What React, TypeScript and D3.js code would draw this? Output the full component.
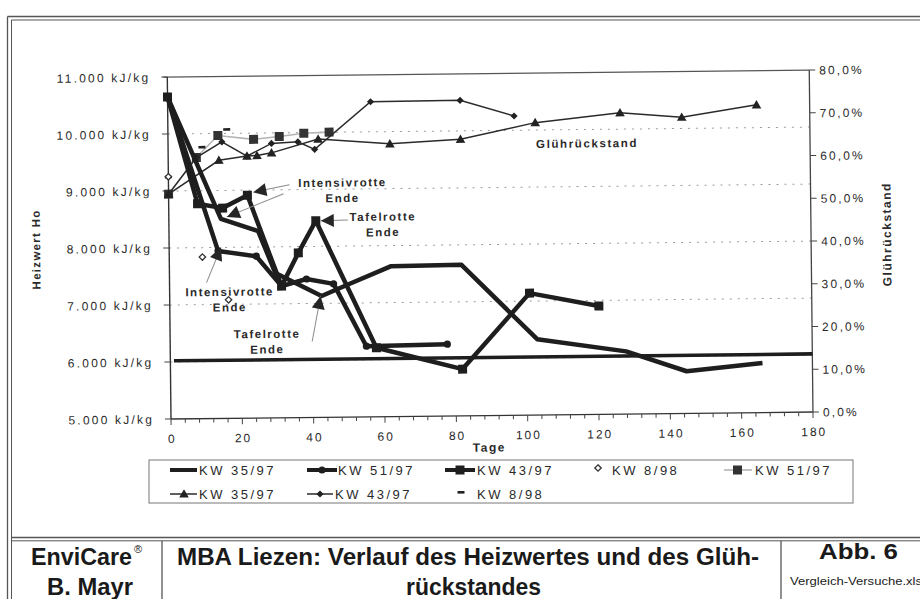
import React from "react";
import * as d3 from "d3";

// Heizwert Ho (kJ/kg) - linke Achse
const hw3597Tage = [0, 14.6, 25, 29.7, 42.6, 50.2, 62.2, 81.9, 102.9, 127.8, 144.7, 166];
const hw3597 = [10650, 8500, 8280, 7540, 7130, 7330, 7640, 7650, 6330, 6100, 5740, 5870];
const hw5197Tage = [0, 13.7, 24.4, 31.4, 38.4, 46, 55, 77.7];
const hw5197 = [10650, 7940, 7840, 7310, 7430, 7340, 6240, 6260];
const hw4397Tage = [0, 8.1, 15.1, 22.1, 31.4, 36.2, 41.2, 57.8, 81.9, 100.9, 120.3];
const hw4397 = [10650, 8770, 8690, 8910, 7310, 7890, 8450, 6210, 5820, 7140, 6900];
const hw898Tage = [0, 9.3, 16.5];
const hw898 = [9250, 7835, 7080];
const grenzTage = [1, 180];
const grenzWert = [6020, 6020];

// Glührückstand (%) - rechte Achse
const gr5197Tage = [0, 7.9, 14, 24, 31.2, 38.1, 45.2];
const gr5197 = [52.6, 61.1, 66.2, 65.2, 65.8, 66.5, 66.7];
const gr3597Tage = [0, 14.2, 22.1, 24.9, 29, 42.1, 62.2, 82, 103, 126.8, 144.1, 165.1];
const gr3597 = [52.6, 60.4, 61.3, 61.4, 62.0, 65.1, 63.8, 64.7, 68.4, 70.5, 69.3, 72.0];
const gr4397Tage = [0, 7.9, 15.1, 22.1, 29, 36.4, 41.1, 56.9, 82, 97.1];
const gr4397 = [52.6, 61.1, 64.7, 61.3, 64.2, 64.5, 62.7, 73.7, 73.8, 70.0];
const gr898Tage = [0, 9.5, 16.5];
const gr898 = [56.6, 63.5, 67.6];

const leftTicks = [5000, 6000, 7000, 8000, 9000, 10000, 11000];
const gridTicks = [6000, 7000, 8000, 9000, 10000];
const rightTicks = [0, 10, 20, 30, 40, 50, 60, 70, 80];
const dayTicks = [0, 20, 40, 60, 80, 100, 120, 140, 160, 180];

const x = d3.scaleLinear().domain([0, 180]).range([171, 813]);
const yL = d3.scaleLinear().domain([5000, 11000]).range([419, 77]);
const yR = d3.scaleLinear().domain([0, 80]).range([419, 77]);
const de = d3.formatLocale({ decimal: ",", thousands: ".", grouping: [3], currency: ["", ""] });
const fmtL = de.format(",");
const fmtR = de.format(".1f");
const line = d3.line();

const pts = (t: number[], v: number[], y: (n: number) => number) =>
  t.map((d, i) => [x(d), y(v[i])] as [number, number]);

const INK = "#1e1e1e";
const TXT = "#2a2a2a";
const narrow = "'Liberation Sans Narrow', 'Arial Narrow', 'Liberation Sans', Arial, sans-serif";
const sans = "'Liberation Sans', Arial, sans-serif";

const tri = (cx: number, cy: number, s: number) =>
  `M${cx},${cy - s * 0.6}L${cx + s * 0.6},${cy + s * 0.45}L${cx - s * 0.6},${cy + s * 0.45}Z`;
const dia = (cx: number, cy: number, s: number) =>
  `M${cx},${cy - s}L${cx + s},${cy}L${cx},${cy + s}L${cx - s},${cy}Z`;

function Thick({ t, v, mark }: { t: number[]; v: number[]; mark?: string }) {
  const p = pts(t, v, yL);
  return (
    <g>
      <path d={line(p) || ""} fill="none" stroke={INK} strokeWidth={4.5} strokeLinejoin="round" />
      {mark === "sq" && p.map((d, i) => <rect key={i} x={d[0] - 4.5} y={d[1] - 4.5} width={9} height={9} fill={INK} />)}
      {mark === "ci" && p.map((d, i) => <circle key={i} cx={d[0]} cy={d[1]} r={3.6} fill={INK} />)}
    </g>
  );
}

// Annotations: anchor on a data point, arrow tip offset, text position
const notes = [
  { lines: ["Intensivrotte", "Ende"], tx: 345, ty: 188.5, from: [292, 186], at: [hw4397Tage[3], hw4397[3]], off: [6, -3] },
  { lines: [], tx: 0, ty: 0, from: [286, 195], at: [hw3597Tage[1], hw3597[1]], off: [6, -2] },
  { lines: ["Tafelrotte", "Ende"], tx: 385, ty: 223, from: [350, 222], at: [hw4397Tage[6], hw4397[6]], off: [5, 0] },
  { lines: ["Intensivrotte", "Ende"], tx: 231, ty: 296.5, from: [208, 283], at: [hw5197Tage[1], hw5197[1]], off: [3, -3.5] },
  { lines: ["Tafelrotte", "Ende"], tx: 268, ty: 339, from: [313, 343], at: [hw3597Tage[4], hw3597[4]], off: [-1, 0] },
];

export default function App() {
  return (
    <svg width={920} height={599} style={{ display: "block", position: "absolute", left: 0, top: 0 }}>
      <defs>
        <marker id="ah" viewBox="0 0 10 10" refX={10} refY={5} markerWidth={16} markerHeight={13}
          markerUnits="userSpaceOnUse" orient="auto">
          <path d="M0,0L10,5L0,10Z" fill="#262626" />
        </marker>
      </defs>
      <rect width={920} height={599} fill="#fff" />

      {/* page frame */}
      <g stroke="#555" fill="none">
        <line x1={7.5} y1={16.5} x2={920} y2={16.5} strokeWidth={1.3} />
        <line x1={11.5} y1={20} x2={920} y2={20} strokeWidth={1} />
        <line x1={7.5} y1={16.5} x2={7.5} y2={599} strokeWidth={1.3} />
        <line x1={11.5} y1={20} x2={11.5} y2={599} strokeWidth={1} />
        <line x1={11.5} y1={537.5} x2={920} y2={537.5} strokeWidth={1.6} />
        <line x1={11.5} y1={540.8} x2={920} y2={540.8} strokeWidth={1} />
        <line x1={162} y1={541} x2={162} y2={599} strokeWidth={1.3} />
        <line x1={781} y1={541} x2={781} y2={599} strokeWidth={1.3} />
      </g>

      <g transform="rotate(-0.62 171 419)">
        {/* grid */}
        {gridTicks.map((v) => (
          <line key={v} x1={x(0)} x2={x(180)} y1={yL(v)} y2={yL(v)} stroke="#9a9a9a" strokeDasharray="2,6" />
        ))}
        {/* frame / axes */}
        <line x1={167} x2={x(180)} y1={yL(11000)} y2={yL(11000)} stroke="#555" strokeWidth={1.2} />
        <line x1={x(0)} x2={x(0)} y1={yL(11000)} y2={yL(5000)} stroke="#333" strokeWidth={1.4} />
        <line x1={x(0)} x2={x(180)} y1={yL(5000)} y2={yL(5000)} stroke="#333" strokeWidth={1.4} />
        <line x1={x(180)} x2={x(180)} y1={yR(80)} y2={yR(0)} stroke="#444" strokeWidth={1.3} />

        {leftTicks.map((v) => (
          <g key={v}>
            <line x1={x(0) - 6} x2={x(0)} y1={yL(v)} y2={yL(v)} stroke="#444" />
            <text x={154} y={yL(v) + 4.5} textAnchor="end" fontFamily={sans} fontSize={12} letterSpacing={2.2} fill={TXT}>
              {fmtL(v)} kJ/kg
            </text>
          </g>
        ))}
        {rightTicks.map((v) => (
          <g key={v}>
            <line x1={x(180)} x2={x(180) + 6} y1={yR(v)} y2={yR(v)} stroke="#444" />
            <text x={823} y={yR(v) + 4.5} fontFamily={sans} fontSize={12} letterSpacing={2.1} fill={TXT}>
              {fmtR(v)}%
            </text>
          </g>
        ))}
        {d3.range(0, 181, 4).map((d) => (
          <line key={d} x1={x(d)} x2={x(d)} y1={yL(5000)} y2={yL(5000) + (d % 20 === 0 ? 6 : 4)} stroke="#444" />
        ))}
        {dayTicks.map((d) => (
          <text key={d} x={x(d) + 1} y={443} textAnchor="middle" fontFamily={sans} fontSize={12} letterSpacing={2} fill={TXT}>
            {d}
          </text>
        ))}
        <text x={489} y={455} textAnchor="middle" fontFamily={sans} fontWeight="bold" fontSize={12} letterSpacing={1.5} fill={TXT}>
          Tage
        </text>
        <text transform="translate(42,248) rotate(-90)" textAnchor="middle" fontFamily={sans} fontWeight="bold" fontSize={11.5} letterSpacing={1.3} fill={TXT}>
          Heizwert Ho
        </text>
        <text transform="translate(893,242) rotate(-90)" textAnchor="middle" fontFamily={sans} fontWeight="bold" fontSize={12} letterSpacing={1.5} fill={TXT}>
          Glührückstand
        </text>

        {/* Grenzlinie */}
        <path d={line(pts(grenzTage, grenzWert, yL)) || ""} stroke={INK} strokeWidth={3.6} fill="none" />

        {/* Glührückstand, dünne Linien */}
        <path d={line(pts(gr5197Tage, gr5197, yR)) || ""} fill="none" stroke="#b4b4b4" strokeWidth={1.6} />
        {pts(gr5197Tage, gr5197, yR).map((d, i) => (
          <rect key={i} x={d[0] - 4.5} y={d[1] - 4.5} width={9} height={9} fill="#333" />
        ))}
        <path d={line(pts(gr3597Tage, gr3597, yR)) || ""} fill="none" stroke="#2a2a2a" strokeWidth={1.5} />
        {pts(gr3597Tage, gr3597, yR).map((d, i) => (
          <path key={i} d={tri(d[0], d[1], 8)} fill="#222" />
        ))}
        <path d={line(pts(gr4397Tage, gr4397, yR)) || ""} fill="none" stroke="#2a2a2a" strokeWidth={1.5} />
        {pts(gr4397Tage, gr4397, yR).map((d, i) => (
          <path key={i} d={dia(d[0], d[1], 3.6)} fill="#222" />
        ))}
        {pts(gr898Tage, gr898, yR).map((d, i) => (
          <rect key={i} x={d[0] - 3.5} y={d[1] - 1.3} width={7} height={2.6} fill="#222" />
        ))}

        {/* Heizwert, dicke Linien */}
        <Thick t={hw3597Tage} v={hw3597} />
        <Thick t={hw5197Tage} v={hw5197} mark="ci" />
        <Thick t={hw4397Tage} v={hw4397} mark="sq" />
        {pts(hw898Tage, hw898, yL).map((d, i) => (
          <path key={i} d={dia(d[0], d[1], 3.2)} fill="#fff" stroke="#333" strokeWidth={1.3} />
        ))}

        {/* Anmerkungen */}
        {notes.map((n, i) => {
          const tx = x(n.at[0]) + n.off[0];
          const ty = yL(n.at[1]) + n.off[1];
          return (
            <g key={i}>
              <line x1={n.from[0]} y1={n.from[1]} x2={tx} y2={ty} stroke="#8a8a8a" strokeWidth={1} markerEnd="url(#ah)" />
              {n.lines.map((s, j) => (
                <text key={j} x={n.tx} y={n.ty + j * 15.5} textAnchor="middle" fontFamily={sans} fontWeight="bold"
                  fontSize={11.5} letterSpacing={1.5} fill={TXT}>
                  {s}
                </text>
              ))}
            </g>
          );
        })}
        <text x={590} y={152} textAnchor="middle" fontFamily={sans} fontWeight="bold" fontSize={11.5} letterSpacing={1.6} fill={TXT}>
          Glührückstand
        </text>
      </g>

      {/* Legende */}
      <g fontFamily={sans} fontSize={13} letterSpacing={2.5} fill={TXT}>
        <rect x={149} y={460} width={704} height={43} fill="none" stroke="#777" strokeWidth={1} />
        <line x1={170} x2={197} y1={470} y2={470} stroke={INK} strokeWidth={4} />
        <text x={199} y={475}>KW 35/97</text>
        <line x1={307} x2={337} y1={470} y2={470} stroke={INK} strokeWidth={4} />
        <circle cx={322} cy={470} r={3.6} fill={INK} />
        <text x={338} y={475}>KW 51/97</text>
        <line x1={445} x2={475} y1={470} y2={470} stroke={INK} strokeWidth={4} />
        <rect x={455.5} y={465.5} width={9} height={9} fill={INK} />
        <text x={477} y={475}>KW 43/97</text>
        <path d={dia(598, 468, 3.2)} fill="#fff" stroke="#333" strokeWidth={1.3} />
        <text x={612} y={475}>KW 8/98</text>
        <line x1={724} x2={752} y1={470} y2={470} stroke="#b4b4b4" strokeWidth={1.6} />
        <rect x={733} y={465.5} width={9} height={9} fill="#333" />
        <text x={755} y={475}>KW 51/97</text>

        <line x1={170} x2={197} y1={494} y2={494} stroke="#2a2a2a" strokeWidth={1.5} />
        <path d={tri(184, 494, 8)} fill="#222" />
        <text x={199} y={499}>KW 35/97</text>
        <line x1={307} x2={333} y1={494} y2={494} stroke="#2a2a2a" strokeWidth={1.5} />
        <path d={dia(320, 494, 3.6)} fill="#222" />
        <text x={335} y={499}>KW 43/97</text>
        <rect x={457.5} y={491} width={7} height={2.6} fill="#222" />
        <text x={477} y={499}>KW 8/98</text>
      </g>

      {/* Titelblock */}
      <g fontFamily={narrow} fontWeight="bold" fill="#1a1a1a">
        <text x={31} y={565} fontSize={23} textLength={101} lengthAdjust="spacingAndGlyphs">EnviCare</text>
        <text x={134} y={553} fontSize={11} fontWeight="normal">®</text>
        <text x={47} y={595} fontSize={23} textLength={86} lengthAdjust="spacingAndGlyphs">B. Mayr</text>
        <text x={177} y={565} fontSize={23} textLength={582} lengthAdjust="spacingAndGlyphs">
          MBA Liezen: Verlauf des Heizwertes und des Glüh-
        </text>
        <text x={406} y={595} fontSize={23} textLength={135} lengthAdjust="spacingAndGlyphs">rückstandes</text>
        <text x={819} y={559} fontSize={22} textLength={79} lengthAdjust="spacingAndGlyphs">Abb. 6</text>
        <text x={790} y={585} fontSize={11} fontWeight="normal" textLength={132} lengthAdjust="spacingAndGlyphs">
          Vergleich-Versuche.xls
        </text>
      </g>
    </svg>
  );
}
